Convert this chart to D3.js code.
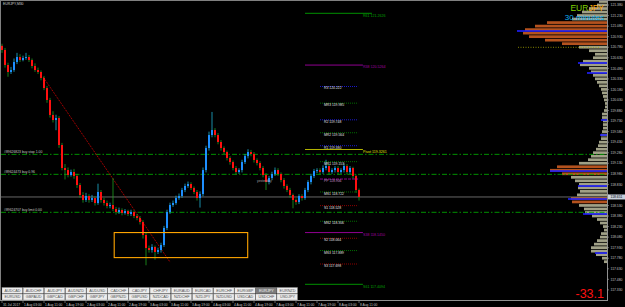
<!DOCTYPE html>
<html><head><meta charset="utf-8">
<script src="https://cdn.jsdelivr.net/npm/d3@7/dist/d3.min.js"></script>
<style>html,body{margin:0;padding:0;background:#000;overflow:hidden}svg{display:block}text{font-family:"Liberation Sans",Arial,sans-serif}</style>
</head><body><svg id="c" width="625" height="307"></svg>
<script>
// ---------- DATA ----------
const firstOpen = 120.80;
const closes = [120.741,120.528,120.428,120.456,120.570,120.641,120.598,120.627,120.641,120.598,
120.513,120.456,120.428,120.343,120.200,120.030,119.817,119.745,119.774,119.390,
119.063,119.034,118.963,119.006,118.949,118.821,118.679,118.608,118.665,118.608,
118.636,118.565,118.722,118.608,118.565,118.522,118.537,118.480,118.437,118.466,
118.423,118.451,118.409,118.437,118.380,118.352,118.295,118.110,117.925,117.897,
117.940,117.869,117.897,117.968,118.210,118.437,118.537,118.565,118.636,118.665,
118.750,118.807,118.835,118.778,118.722,118.636,118.693,119.034,119.347,119.532,
119.603,119.532,119.433,119.347,119.290,119.205,119.148,119.063,119.006,119.034,
119.148,119.233,119.290,119.262,119.177,119.134,119.063,118.963,118.864,118.921,
118.978,119.034,118.978,118.892,118.807,118.750,118.679,118.608,118.579,118.665,
118.636,118.750,118.864,118.949,119.020,119.034,119.006,119.063,119.091,119.006,
119.034,119.063,119.006,119.034,119.091,119.006,119.063,118.949,118.750,118.651];
const highs = [120.83,120.77,120.56,120.50,120.62,120.70,120.68,120.66,120.70,120.67,
120.62,120.55,120.49,120.45,120.37,120.23,120.06,119.87,119.82,119.80,
119.42,119.12,119.07,119.04,119.05,118.98,118.85,118.72,118.71,118.69,
118.68,118.66,118.84,118.75,118.64,118.60,118.57,118.92,118.51,118.50,
118.49,118.48,118.47,118.47,118.46,118.41,118.38,118.32,118.14,117.96,
117.98,117.96,117.93,118.00,118.24,118.47,118.57,118.60,118.67,118.70,
118.78,118.84,118.87,118.86,118.80,118.75,118.73,119.07,119.38,119.58,
119.86,119.63,119.56,119.46,119.37,119.31,119.23,119.17,119.09,119.06,
119.18,119.26,119.33,119.32,119.29,119.20,119.16,119.09,118.99,118.95,
119.01,119.07,119.06,119.00,118.92,118.83,118.78,118.70,118.63,118.69,
118.69,118.78,118.89,118.98,119.05,119.06,119.06,119.10,119.18,119.12,
119.06,119.09,119.09,119.06,119.13,119.12,119.09,119.08,118.97,118.77];
const lows = [120.70,120.49,120.36,120.40,120.43,120.54,120.57,120.58,120.60,120.57,
120.48,120.43,120.40,120.31,120.17,119.99,119.78,119.71,119.60,119.35,
119.03,118.90,118.93,118.94,118.91,118.78,118.64,118.57,118.58,118.57,
118.58,118.53,118.54,118.57,118.53,118.49,118.49,118.45,118.40,118.41,
118.39,118.40,118.38,118.38,118.35,118.32,118.26,118.06,117.68,117.86,
117.86,117.76,117.84,117.86,117.94,118.18,118.41,118.51,118.54,118.61,
118.64,118.72,118.78,118.75,118.69,118.60,118.50,118.66,119.00,119.31,
119.50,119.50,119.40,119.31,119.26,119.17,119.11,119.03,118.97,118.98,
119.00,119.12,119.20,119.23,119.14,119.10,119.03,118.93,118.75,118.83,
118.89,118.95,118.95,118.86,118.77,118.72,118.64,118.49,118.54,118.55,
118.60,118.61,118.72,118.83,118.92,118.99,118.97,118.98,119.03,118.97,
118.98,119.00,118.97,118.98,119.00,118.97,118.98,118.91,118.71,118.60];

const priceTicks = [121.380,121.230,121.080,120.930,120.780,120.630,120.480,120.330,120.180,120.030,
119.880,119.730,119.580,119.430,119.280,119.130,118.980,118.830,118.680,118.530,
118.380,118.230,118.080,117.930,117.780,117.630,117.480,117.330];

const timeLabels = ["31 Jul 2017","1 Aug 03:00","1 Aug 11:00","1 Aug 19:00","2 Aug 03:00","2 Aug 11:00",
"2 Aug 19:00","3 Aug 03:00","3 Aug 11:00","3 Aug 19:00","4 Aug 03:00","4 Aug 11:00",
"4 Aug 19:00","7 Aug 03:00","7 Aug 11:00","7 Aug 19:00","8 Aug 03:00","8 Aug 11:00"];
const timeLabelIdx = [0,7,14,21,28,35,42,49,56,63,70,77,84,91,98,105,112,119];

const pivotNames = ["R3","MR3","R2","MR2","R1","MR1","PP","MS1","S1","MS2","S2","MS3","S3"];
const pivotValues = [120.222,119.985,119.748,119.564,119.380,119.153,118.906,118.722,118.528,118.306,118.064,117.889,117.698];

const fibNames = ["R61","R38","Pivot ","S38","S61"];
const fibValues = [121.2626,120.5264,119.3261,118.1450,117.4094];

const orderLabels = ["#89626823 buy stop 1.00","#89624473 buy 0.96","#89624707 buy limit 0.00"];
const orderPrices = [119.257,118.973,118.433];

const profileTop = 121.45, profileStep = 0.05;
const profileVolumes = [8,10,18,25,30,35,60,72,82,84,78,62,45,28,18,12,14,24,27,18,
16,14,12,10,8,6,5,4,3,2,2,3,5,5,4,4,4,5,6,6,
8,9,11,14,16,19,28,50,57,45,36,32,28,29,27,30,36,35,28,23,
22,15,10,7,4,3,6,7,10,13,16,16,11,5,3];
const valueAreas = [[121.15,120.85],[119.10,119.00],[118.65,118.60]];
const pocPrices = [121.011,120.556,120.414,119.745,119.532,119.020,118.807,118.622,118.409,117.854];
const pocVolumes = [90,29,20,6,7,57,29,39,24,12];
const profileMarker = 120.779;

const trendIdx = [13.7,56], trendPrice = [120.357,117.726];
const boxIdx = [37.4,81.9], boxPrice = [118.145,117.789];

const row1 = ["AUDCAD","AUDCHF","AUDJPY","AUDNZD","AUDUSD","CADCHF","CADJPY","CHFJPY","EURAUD","EURCAD","EURCHF","EURGBP","EURJPY","EURNZD"];
const row2 = ["EURUSD","GBPAUD","GBPCAD","GBPCHF","GBPJPY","GBPNZD","GBPUSD","NZDCAD","NZDCHF","NZDJPY","NZDUSD","USDCAD","USDCHF","USDJPY"];
const selectedPair = "EURJPY";
const scoreText = "-33.1";

// ---------- LAYOUT ----------
const svg = d3.select("#c");
const AX = 607, BOT = 300;
const x = d3.scaleLinear().domain([0,119]).range([2,359]);
const y = d3.scaleLinear().domain([117.4094,121.2626]).range([284.3,13.3]);
const xv = d3.scaleLinear().domain([0,100]).range([0,100]);
const fmt = d3.format(".3f");

svg.append("rect").attr("width",625).attr("height",307).attr("fill","#000");
svg.append("defs").append("clipPath").attr("id","plot").append("rect")
  .attr("x",1).attr("y",1).attr("width",AX-1).attr("height",BOT-1);
const g = svg.append("g").attr("clip-path","url(#plot)");

// volume profile
const prof = g.append("g");
prof.selectAll("rect.bin").data(profileVolumes).join("rect").attr("class","bin")
  .attr("x",v=>AX-xv(v)).attr("width",v=>xv(v))
  .attr("y",(v,i)=>y(profileTop-i*profileStep))
  .attr("height",(v,i)=>Math.max(0.5,y(profileTop-(i+1)*profileStep)-y(profileTop-i*profileStep)-0.8))
  .attr("fill",(v,i)=>{const p=profileTop-i*profileStep;return valueAreas.some(r=>p<=r[0]+1e-6&&p>=r[1]-1e-6)?"#b4521e":"#a0a086";});
prof.selectAll("rect.poc").data(pocPrices).join("rect").attr("class","poc")
  .attr("x",(p,i)=>AX-xv(pocVolumes[i])).attr("width",(p,i)=>xv(pocVolumes[i]))
  .attr("y",p=>y(p)-0.8).attr("height",1.6).attr("fill","#2020ff");
g.append("line").attr("x1",518).attr("x2",600).attr("y1",y(profileMarker)).attr("y2",y(profileMarker))
  .attr("stroke","#a8a800").attr("stroke-width",0.8).attr("stroke-dasharray","1,1.5");

// order lines
orderPrices.forEach((p,i)=>{
  g.append("line").attr("x1",1).attr("x2",AX).attr("y1",y(p)).attr("y2",y(p))
    .attr("stroke","#00a000").attr("stroke-width",0.9).attr("stroke-dasharray","5,2,1.5,2");
  g.append("text").attr("x",4).attr("y",y(p)-1).attr("font-size",3.4).attr("fill","#c8c8c8").text(orderLabels[i]);
});

// current price line
const last = closes[closes.length-1];
g.append("line").attr("x1",1).attr("x2",AX).attr("y1",y(last)).attr("y2",y(last)).attr("stroke","#808080").attr("stroke-width",0.8);

// trend line
g.append("line").attr("x1",x(trendIdx[0])).attr("y1",y(trendPrice[0])).attr("x2",x(trendIdx[1])).attr("y2",y(trendPrice[1]))
  .attr("stroke","#d00000").attr("stroke-width",1).attr("stroke-dasharray","1,1");

// candles
const cg = g.append("g");
closes.forEach((c,i)=>{
  const o = i===0?firstOpen:closes[i-1];
  const up = c>=o;
  const cx = x(i);
  cg.append("line").attr("x1",cx).attr("x2",cx).attr("y1",y(highs[i])).attr("y2",y(lows[i]))
    .attr("stroke",up?"#20b0d0":"#20a020").attr("stroke-width",0.8);
  const t=y(Math.max(o,c)), b=y(Math.min(o,c));
  cg.append("rect").attr("x",cx-1).attr("width",2).attr("y",t).attr("height",Math.max(0.8,b-t))
    .attr("fill",up?"#1e8fff":"#ff1010");
});

// orange box
g.append("rect").attr("x",x(boxIdx[0])).attr("y",y(boxPrice[0])).attr("width",x(boxIdx[1])-x(boxIdx[0]))
  .attr("height",y(boxPrice[1])-y(boxPrice[0])).attr("fill","none").attr("stroke","#ffa500").attr("stroke-width",1.1);

// yesterday label
g.append("text").attr("x",257).attr("y",y(118.906)+2.5).attr("font-size",3.4).attr("fill","#a0a0a0").text("yesterday");

// pivot levels (short dotted)
const pivColor = n => n==="PP"?"#b000b0":(n[0]==="R"?"#2020ff":(n[0]==="M"?"#008800":"#b00000"));
pivotValues.forEach((v,i)=>{
  const n=pivotNames[i];
  g.append("line").attr("x1",x(106)).attr("x2",x(118.7)).attr("y1",y(v)).attr("y2",y(v))
    .attr("stroke",pivColor(n)).attr("stroke-width",0.8).attr("stroke-dasharray",n==="PP"?"3,1":"1,1");
  g.append("text").attr("x",324).attr("y",y(v)+3).attr("font-size",3.4)
    .attr("fill",n==="PP"?"#c890c8":"#e0e0e0").text(n+" "+fmt(v));
});

// fib levels
const fibColor = n => n.startsWith("Pivot")?"#c8c800":(n.endsWith("61")?"#00a000":"#a000a0");
fibValues.forEach((v,i)=>{
  const n=fibNames[i];
  g.append("line").attr("x1",x(101)).attr("x2",i===0?x(123.3):x(120.3)).attr("y1",y(v)).attr("y2",y(v))
    .attr("stroke",fibColor(n)).attr("stroke-width",0.9);
  g.append("text").attr("x",363).attr("y",y(v)+3.2).attr("font-size",3.6)
    .attr("fill",n.startsWith("Pivot")?"#e0e000":fibColor(n)).text(n+" "+d3.format(".4f")(v));
});

// title and score
const tt = svg.append("text").attr("x",604).attr("y",11).attr("text-anchor","end").attr("font-size",8.5);
tt.append("tspan").attr("fill","#7fd000").text("EUR");
tt.append("tspan").attr("fill","#ffa500").text("JPY");
svg.append("text").attr("x",604).attr("y",20).attr("text-anchor","end").attr("font-size",8).attr("fill","#10b0f0").text("30 minutes");
svg.append("text").attr("x",604).attr("y",298).attr("text-anchor","end").attr("font-size",12.5).attr("fill","#ff1010").text(scoreText);
svg.append("text").attr("x",3).attr("y",5).attr("font-size",3.4).attr("fill","#d0d0d0").text("EURJPY,M30");

// frame
svg.append("line").attr("x1",0).attr("x2",625).attr("y1",0.5).attr("y2",0.5).attr("stroke","#808080");
svg.append("line").attr("x1",0.5).attr("x2",0.5).attr("y1",0).attr("y2",BOT).attr("stroke","#808080");
svg.append("line").attr("x1",AX+0.5).attr("x2",AX+0.5).attr("y1",0).attr("y2",BOT+1).attr("stroke","#909090");
svg.append("line").attr("x1",0).attr("x2",AX+1).attr("y1",BOT+0.5).attr("y2",BOT+0.5).attr("stroke","#909090");

// price axis (labels hidden where the current-price tag covers them)
const pa = svg.append("g");
priceTicks.forEach(v=>{
  pa.append("line").attr("x1",AX).attr("x2",AX+2).attr("y1",y(v)).attr("y2",y(v)).attr("stroke","#a0a0a0").attr("stroke-width",0.6);
  if (Math.abs(y(v)-y(last))>4.5)
    pa.append("text").attr("x",AX+3.5).attr("y",y(v)+1.2).attr("font-size",3.4).attr("fill","#c0c0c0").text(fmt(v));
});
pa.append("rect").attr("x",AX+1).attr("y",y(last)-2.5).attr("width",17).attr("height",5).attr("fill","#c8d0dc");
pa.append("text").attr("x",AX+3.5).attr("y",y(last)+1.2).attr("font-size",3.4).attr("fill","#000").text(fmt(last));

// time axis
timeLabelIdx.forEach((k,i)=>{
  svg.append("line").attr("x1",x(k)).attr("x2",x(k)).attr("y1",BOT+1).attr("y2",BOT+3).attr("stroke","#a0a0a0").attr("stroke-width",0.6);
  svg.append("text").attr("x",x(k)+1).attr("y",305.5).attr("font-size",3.3).attr("fill","#c0c0c0").text(timeLabels[i]);
});

// pair buttons
const bw = 21.15;
[[row1,287.5],[row2,294]].forEach(([row,by])=>{
  row.forEach((p,k)=>{
    const sel = p===selectedPair;
    svg.append("rect").attr("x",2+k*bw).attr("y",by).attr("width",bw-0.6).attr("height",6)
      .attr("fill",sel?"#7c7c7c":"#ececec").attr("stroke","#909090").attr("stroke-width",0.4);
    svg.append("text").attr("x",2+k*bw+bw/2).attr("y",by+4.3).attr("text-anchor","middle").attr("font-size",3.8)
      .attr("fill",sel?"#f0f0f0":"#505050").text(p);
  });
});
</script></body></html>
